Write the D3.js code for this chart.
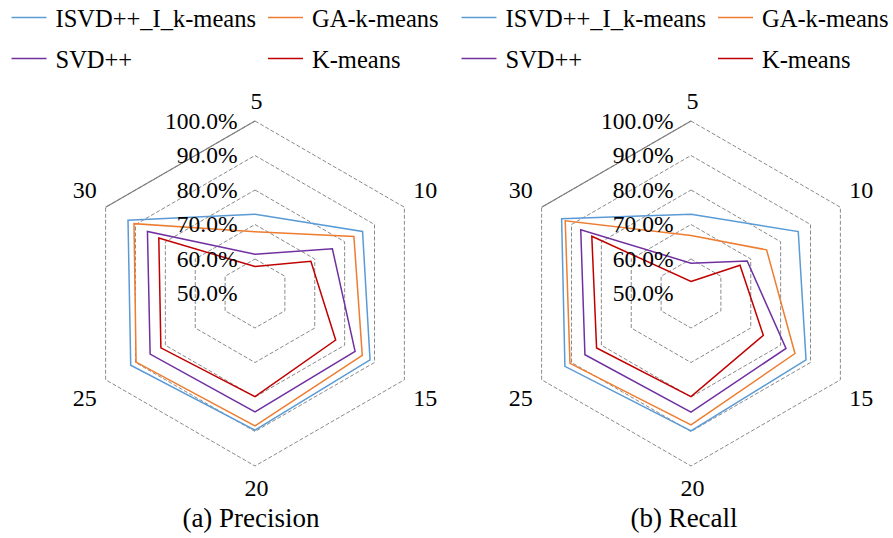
<!DOCTYPE html>
<html>
<head>
<meta charset="utf-8">
<script src="https://cdn.jsdelivr.net/npm/d3@7"></script>
<style>
  html, body { margin: 0; padding: 0; background: #fff; }
  svg { display: block; }
  text { font-family: "Liberation Serif", "Times New Roman", serif; fill: #000; }
</style>
</head>
<body>
<svg id="chart" width="893" height="538"></svg>
<script>
// Top-N list sizes shown on each spoke
const categories = ["5", "10", "15", "20", "25", "30"];

const seriesNames = ["ISVD++_I_k-means", "GA-k-means", "SVD++", "K-means"];
const seriesColors = ["#5B9BD5", "#ED7D31", "#7030A0", "#C00000"];

// Precision per list size
const precisionISVD   = [0.730, 0.860, 0.885, 0.896, 0.916, 0.925];
const precisionGA     = [0.679, 0.831, 0.859, 0.884, 0.898, 0.905];
const precisionSVD    = [0.614, 0.759, 0.835, 0.843, 0.851, 0.860];
const precisionKmeans = [0.578, 0.687, 0.770, 0.799, 0.815, 0.822];

// Recall per list size
const recallISVD   = [0.730, 0.859, 0.885, 0.898, 0.922, 0.933];
const recallGA     = [0.668, 0.753, 0.848, 0.881, 0.905, 0.921];
const recallSVD    = [0.588, 0.688, 0.818, 0.844, 0.855, 0.869];
const recallKmeans = [0.535, 0.664, 0.742, 0.799, 0.816, 0.832];

// Radial tick values
const tickValues = [0.5, 0.6, 0.7, 0.8, 0.9, 1.0];
const tickFormat = d3.format(".1%");

const panels = [
  { title: "(a) Precision", cx: 255, legendX: 0,
    titleX: 251, series: [precisionISVD, precisionGA, precisionSVD, precisionKmeans] },
  { title: "(b) Recall", cx: 691, legendX: 450,
    titleX: 684, series: [recallISVD, recallGA, recallSVD, recallKmeans] }
];

const svg = d3.select("#chart");
const cy = 293.5;
const R = 172.5;
const r = d3.scaleLinear().domain([0.5, 1.0]).range([0, R]);
const angle = d3.scalePoint().domain(categories).range([0, 2 * Math.PI * 5 / 6]);

panels.forEach(p => {
  // legend: two rows, two columns
  const lg = svg.append("g").attr("transform", `translate(${p.legendX},0)`);
  const legendPos = [[11.5, 17.5], [268, 17.5], [11.5, 58.5], [268, 58.5]];
  seriesNames.forEach((name, i) => {
    const [lx, ly] = legendPos[i];
    lg.append("line")
      .attr("x1", lx).attr("x2", lx + 35)
      .attr("y1", ly).attr("y2", ly)
      .attr("stroke", seriesColors[i]).attr("stroke-width", 1.5);
    lg.append("text")
      .attr("x", lx + 44).attr("y", ly + 9.2)
      .attr("font-size", 24.5)
      .text(name);
  });

  const g = svg.append("g").attr("transform", `translate(${p.cx},${cy})`);

  // grid hexagons
  const ring = d3.lineRadial()
    .angle(c => angle(c))
    .curve(d3.curveLinearClosed);
  tickValues.filter(t => t > 0.5).forEach(t => {
    g.append("path")
      .attr("d", ring.radius(() => r(t))(categories))
      .attr("fill", "none")
      .attr("stroke", "#8a8a8a")
      .attr("stroke-width", 1)
      .attr("stroke-dasharray", "4,2");
  });
  // solid outer edge between the last and the first spoke
  const pt = (c, v) => [Math.sin(angle(c)) * r(v), -Math.cos(angle(c)) * r(v)];
  const a = pt(categories[categories.length - 1], 1.0);
  const b = pt(categories[0], 1.0);
  g.append("line")
    .attr("x1", a[0]).attr("y1", a[1]).attr("x2", b[0]).attr("y2", b[1])
    .attr("stroke", "#7f7f7f").attr("stroke-width", 1.2);

  // data polygons
  const line = d3.lineRadial()
    .angle((d, i) => angle(categories[i]))
    .radius(d => r(d))
    .curve(d3.curveLinearClosed);
  for (let i = p.series.length - 1; i >= 0; i--) {
    g.append("path")
      .attr("d", line(p.series[i]))
      .attr("fill", "none")
      .attr("stroke", seriesColors[i])
      .attr("stroke-width", 1.5)
      .attr("stroke-linejoin", "miter");
  }

  // radial tick labels along the first spoke
  tickValues.forEach(t => {
    g.append("text")
      .attr("x", -17.5)
      .attr("y", -r(t))
      .attr("dy", "0.33em")
      .attr("text-anchor", "end")
      .attr("font-size", 23.5)
      .text(tickFormat(t));
  });

  // spoke labels
  categories.forEach(c => {
    const ang = angle(c);
    const cos = Math.cos(ang), sin = Math.sin(ang);
    const side = Math.abs(cos) < 0.9;
    const x = sin * (R + 24) + (side ? 0 : 1.5);
    const y = -cos * (R + 20) - (side ? Math.sign(cos) * 8 : (cos > 0 ? 0 : -2));
    g.append("text")
      .attr("x", x).attr("y", y)
      .attr("dy", "0.35em")
      .attr("text-anchor", "middle")
      .attr("font-size", 24)
      .text(c);
  });

  // panel caption
  svg.append("text")
    .attr("x", p.titleX).attr("y", 526.5)
    .attr("text-anchor", "middle")
    .attr("font-size", 27)
    .text(p.title);
});
</script>
</body>
</html>
